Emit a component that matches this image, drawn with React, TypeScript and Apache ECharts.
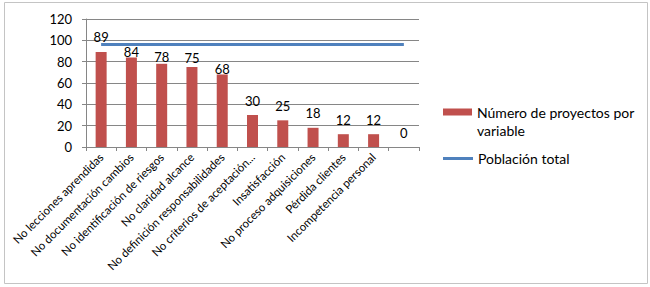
import React, { useEffect, useRef } from "react";
import * as echarts from "echarts";

const categories = [
  "No lecciones aprendidas",
  "No documentación cambios",
  "No identificación de riesgos",
  "No claridad alcance",
  "No definición responsabilidades",
  "No criterios de aceptación...",
  "Insatisfacción",
  "No proceso adquisiciones",
  "Pérdida clientes",
  "Incompetencia personal",
  "",
];
const proyectosPorVariable = [89, 84, 78, 75, 68, 30, 25, 18, 12, 12, 0];
const poblacionTotal = [96, 96, 96, 96, 96, 96, 96, 96, 96, 96, 96];
const yTicks = { min: 0, max: 120, interval: 20 };

// Gap between each bar top and its value label (some are nudged to clear the line)
const labelGaps = [8.5, -1, 0.5, 3, -1, 8, 8, 8, 8, 8, 8];

const FONT = "Lato";
const BAR_NAME = "Número de proyectos por variable";
const LINE_NAME = "Población total";

// Legend swatch: a 29x7 block sitting at the top of a 29x25 box, so it lines up
// with the first line of the wrapped legend text.
const BAR_SWATCH = "path://M0,0H29V7H0Z M0,24.99H0.01V25H0Z";

export default function App() {
  const ref = useRef<HTMLDivElement>(null);

  useEffect(() => {
    document.body.style.margin = "0";
    const chart = echarts.init(ref.current!, null, { renderer: "svg" });
    const legendText = { fontFamily: FONT, fontSize: 14, color: "#000", lineHeight: 18 };
    chart.setOption({
      animation: false,
      backgroundColor: "#ffffff",
      textStyle: { fontFamily: FONT },
      graphic: [
        {
          type: "rect",
          shape: { x: 4.5, y: 2.5, width: 643, height: 281 },
          style: { fill: "none", stroke: "#c4c4c4", lineWidth: 1 },
          silent: true,
        },
      ],
      grid: { left: 86, right: 231, top: 19, bottom: 140 },
      legend: [
        {
          orient: "vertical",
          left: 443,
          top: 103,
          padding: 0,
          itemWidth: 29,
          itemHeight: 25,
          textStyle: legendText,
          formatter: () => "Número de proyectos por\nvariable",
          data: [{ name: BAR_NAME, icon: BAR_SWATCH }],
        },
        {
          orient: "vertical",
          left: 443,
          top: 149.5,
          padding: 0,
          itemWidth: 30,
          itemHeight: 3,
          textStyle: legendText,
          data: [{ name: LINE_NAME, icon: "rect", itemStyle: { color: "#4F81BD" } }],
        },
      ],
      xAxis: {
        type: "category",
        data: categories,
        boundaryGap: true,
        axisLine: { lineStyle: { color: "#868686", width: 1 } },
        axisTick: { show: true, alignWithLabel: false, length: 4, lineStyle: { color: "#868686" } },
        axisLabel: {
          interval: 0,
          rotate: 45,
          fontFamily: FONT,
          fontSize: 11.5,
          color: "#000",
          margin: 8,
        },
      },
      yAxis: {
        type: "value",
        min: yTicks.min,
        max: yTicks.max,
        interval: yTicks.interval,
        axisLine: { show: true, lineStyle: { color: "#868686", width: 1 } },
        axisTick: { show: true, length: 4, lineStyle: { color: "#868686" } },
        axisLabel: { fontFamily: FONT, fontSize: 13, color: "#000", margin: 14 },
        splitLine: { lineStyle: { color: "#868686", width: 1 } },
      },
      series: [
        {
          name: BAR_NAME,
          type: "bar",
          data: proyectosPorVariable.map((v, i) => ({
            value: v,
            label: { distance: labelGaps[i] },
          })),
          barWidth: 11,
          itemStyle: { color: "#C0504D" },
          label: {
            show: true,
            position: "top",
            fontFamily: FONT,
            fontSize: 13,
            color: "#000",
          },
        },
        {
          name: LINE_NAME,
          type: "line",
          data: poblacionTotal,
          symbol: "none",
          z: 1,
          lineStyle: { color: "#4F81BD", width: 3 },
          itemStyle: { color: "#4F81BD" },
        },
      ],
    });
    return () => chart.dispose();
  }, []);

  return <div ref={ref} style={{ width: 650, height: 287 }} />;
}
